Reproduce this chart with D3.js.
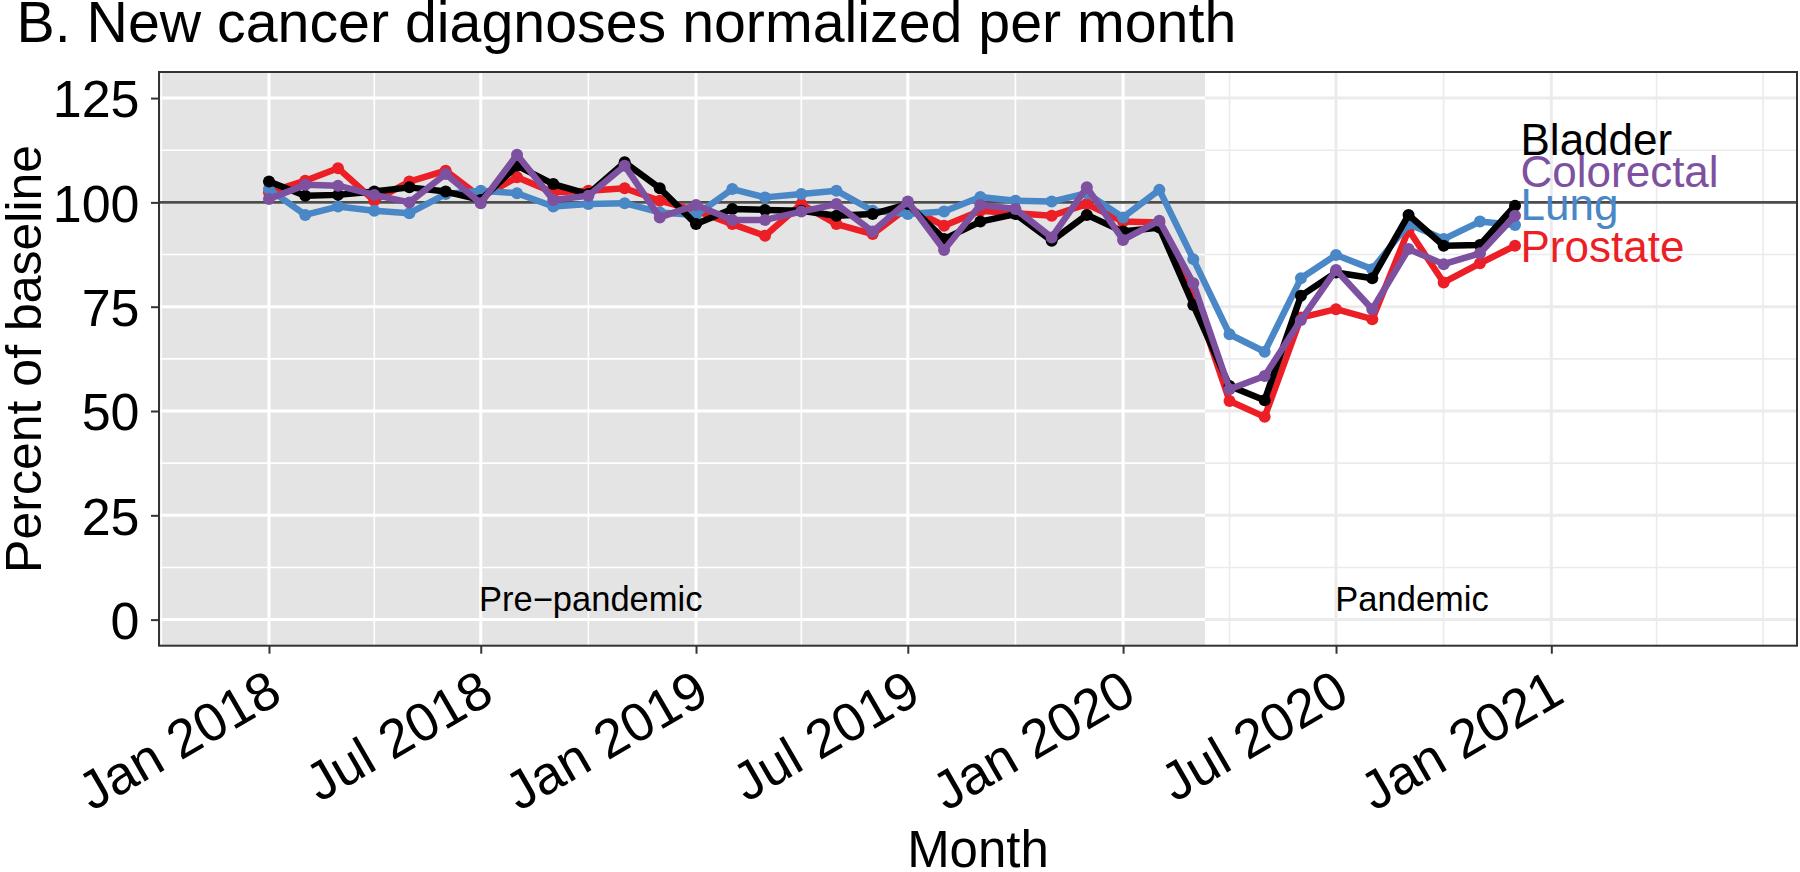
<!DOCTYPE html>
<html><head><meta charset="utf-8">
<script src="https://cdn.jsdelivr.net/npm/d3@7"></script>
<style>
body{margin:0;background:#fff}
text{font-family:"Liberation Sans",Arial,Helvetica,sans-serif}
</style>
</head><body>
<svg id="chart" width="1800" height="872"></svg>
<script>
// ---------------- data ----------------
const months = ["2018-01","2018-02","2018-03","2018-04","2018-05","2018-06","2018-07","2018-08","2018-09","2018-10","2018-11","2018-12",
                "2019-01","2019-02","2019-03","2019-04","2019-05","2019-06","2019-07","2019-08","2019-09","2019-10","2019-11","2019-12",
                "2020-01","2020-02","2020-03","2020-04","2020-05","2020-06","2020-07","2020-08","2020-09","2020-10","2020-11","2020-12"];
const bladder    = [105.0,101.6,101.8,102.6,103.6,102.6,100.6,108.8,104.4,102.0,109.6,103.4,
                    94.8,98.4,98.2,98.0,96.8,97.2,99.6,91.2,95.4,97.2,90.8,97.0,
                    93.0,94.0,75.4,56.0,52.6,77.6,83.2,81.8,97.0,89.6,89.8,99.2];
const colorectal = [100.8,104.2,104.0,101.8,100.0,106.8,99.8,111.4,100.6,101.6,108.8,96.4,
                    99.4,95.8,95.8,97.8,99.6,93.0,100.2,88.6,99.4,98.4,91.6,103.6,
                    91.0,95.6,80.6,55.2,58.4,71.8,83.8,74.4,88.8,85.2,87.8,96.8];
const lung       = [103.2,97.0,99.0,98.0,97.4,102.0,102.8,102.2,99.0,99.6,99.8,97.6,
                    97.0,103.2,101.2,102.0,102.8,98.0,97.2,97.8,101.3,100.4,100.2,102.2,
                    96.4,103.0,86.4,68.4,64.2,81.8,87.4,84.0,94.8,91.2,95.4,94.6];
const prostate   = [102.4,105.2,108.2,100.4,105.0,107.6,101.2,106.0,102.4,102.8,103.4,100.4,
                    98.0,94.8,92.0,99.6,94.8,92.4,98.8,94.4,98.0,97.4,96.8,99.6,
                    95.4,95.2,78.0,52.4,48.6,72.4,74.4,72.0,93.4,80.8,85.4,89.6];

const seriesNames  = ["Bladder","Colorectal","Lung","Prostate"];
const seriesValues = [bladder, colorectal, lung, prostate];
const seriesColors = ["#000000","#7e50a0","#4a87c7","#ec1f26"];
const drawOrder    = ["Prostate","Lung","Bladder","Colorectal"];
const labelValues  = [115.0, 107.4, 99.6, 89.4];

const yTicks      = [0,25,50,75,100,125];
const yMinor      = [12.5,37.5,62.5,87.5,112.5];
const xTickDates  = ["2018-01-01","2018-07-01","2019-01-01","2019-07-01","2020-01-01","2020-07-01","2021-01-01"];
const xTickLabels = ["Jan 2018","Jul 2018","Jan 2019","Jul 2019","Jan 2020","Jul 2020","Jan 2021"];
const xMinorDates = ["2017-10-01","2018-04-01","2018-10-01","2019-04-01","2019-10-01","2020-04-01","2020-10-01","2021-04-01","2021-07-01"];
const xDomain     = ["2017-09-29","2021-07-30"];
const yDomain     = [-6.25, 131.25];
const pandemicStart = "2020-03-11";
const periodLabels     = ["Pre\u2212pandemic","Pandemic"];
const periodLabelDates = ["2018-10-03","2020-09-04"];
const periodLabelValue = 5;
const baselineValue = 100;

const title  = "B. New cancer diagnoses normalized per month";
const xTitle = "Month";
const yTitle = "Percent of baseline";

// ---------------- layout ----------------
const P = {left:159, right:1797, top:72, bottom:645.7};
const parse = d3.utcParse("%Y-%m-%d");
const parseM = d3.utcParse("%Y-%m");

const x = d3.scaleUtc().domain(xDomain.map(parse)).range([P.left, P.right]);
const y = d3.scaleLinear().domain(yDomain).range([P.bottom, P.top]);

const svg = d3.select("#chart");
const defs = svg.append("defs");
const xSplit = x(parse(pandemicStart));
defs.append("clipPath").attr("id","clipPre").append("rect")
  .attr("x",P.left).attr("y",P.top).attr("width",xSplit-P.left).attr("height",P.bottom-P.top);
defs.append("clipPath").attr("id","clipPan").append("rect")
  .attr("x",xSplit).attr("y",P.top).attr("width",P.right-xSplit).attr("height",P.bottom-P.top);
defs.append("clipPath").attr("id","clipPanel").append("rect")
  .attr("x",P.left).attr("y",P.top).attr("width",P.right-P.left).attr("height",P.bottom-P.top);

// backgrounds
svg.append("rect").attr("x",P.left).attr("y",P.top).attr("width",P.right-P.left).attr("height",P.bottom-P.top).attr("fill","#ffffff");
svg.append("rect").attr("x",P.left).attr("y",P.top).attr("width",xSplit-P.left).attr("height",P.bottom-P.top).attr("fill","#e4e4e4");

function grid(g, color, majW, minW){
  g.selectAll(".vmin").data(xMinorDates).join("line").attr("class","vmin")
    .attr("x1",d=>x(parse(d))).attr("x2",d=>x(parse(d))).attr("y1",P.top).attr("y2",P.bottom)
    .attr("stroke",color).attr("stroke-width",minW);
  g.selectAll(".hmin").data(yMinor).join("line").attr("class","hmin")
    .attr("x1",P.left).attr("x2",P.right).attr("y1",d=>y(d)).attr("y2",d=>y(d))
    .attr("stroke",color).attr("stroke-width",minW);
  g.selectAll(".vmaj").data(xTickDates).join("line").attr("class","vmaj")
    .attr("x1",d=>x(parse(d))).attr("x2",d=>x(parse(d))).attr("y1",P.top).attr("y2",P.bottom)
    .attr("stroke",color).attr("stroke-width",majW);
  g.selectAll(".hmaj").data(yTicks).join("line").attr("class","hmaj")
    .attr("x1",P.left).attr("x2",P.right).attr("y1",d=>y(d)).attr("y2",d=>y(d))
    .attr("stroke",color).attr("stroke-width",majW);
}
grid(svg.append("g").attr("clip-path","url(#clipPre)"), "#ffffff", 3, 1.6);
grid(svg.append("g").attr("clip-path","url(#clipPan)"), "#ebebeb", 3, 1.6);

// baseline line
svg.append("line").attr("x1",P.left).attr("x2",P.right)
  .attr("y1",y(baselineValue)).attr("y2",y(baselineValue))
  .attr("stroke","#4d4d4d").attr("stroke-width",2.8);

// series
const dates = months.map(parseM);
const line = d3.line().x((d,i)=>x(dates[i])).y(d=>y(d));
const gs = svg.append("g").attr("clip-path","url(#clipPanel)");
drawOrder.forEach(name=>{
  const k = seriesNames.indexOf(name);
  const vals = seriesValues[k];
  gs.append("path").datum(vals).attr("d",line).attr("fill","none")
    .attr("stroke",seriesColors[k]).attr("stroke-width",6.5).attr("stroke-linejoin","round");
  gs.append("g").selectAll("circle").data(vals).join("circle")
    .attr("cx",(d,i)=>x(dates[i])).attr("cy",d=>y(d)).attr("r",6).attr("fill",seriesColors[k]);
});

// series labels
const lastDate = dates[dates.length-1];
svg.append("g").selectAll("text").data(seriesNames).join("text")
  .attr("x",x(lastDate)+5.5).attr("y",(d,i)=>y(labelValues[i])+15.5)
  .attr("fill",(d,i)=>seriesColors[i]).attr("font-size",44).text(d=>d);

// period labels
svg.append("g").selectAll("text").data(periodLabels).join("text")
  .attr("x",(d,i)=>x(parse(periodLabelDates[i]))).attr("y",y(periodLabelValue)+12.2)
  .attr("text-anchor","middle").attr("font-size",34.5).attr("fill","#000").text(d=>d);

// panel border
svg.append("rect").attr("x",P.left).attr("y",P.top).attr("width",P.right-P.left).attr("height",P.bottom-P.top)
  .attr("fill","none").attr("stroke","#333333").attr("stroke-width",2);

// axes
const yAxis = d3.axisLeft(y).tickValues(yTicks).tickSize(8).tickPadding(11.5).tickFormat(d3.format("d"));
const gy = svg.append("g").attr("transform",`translate(${P.left},0)`).call(yAxis);
gy.select(".domain").remove();
gy.selectAll(".tick line").attr("stroke","#333333").attr("stroke-width",2);
gy.selectAll(".tick text").attr("font-size",52).attr("fill","#000").attr("dy","0.36em");

const xAxis = d3.axisBottom(x).tickValues(xTickDates.map(parse)).tickSize(8)
  .tickFormat((d,i)=>xTickLabels[i]);
const gx = svg.append("g").attr("transform",`translate(0,${P.bottom})`).call(xAxis);
gx.select(".domain").remove();
gx.selectAll(".tick line").attr("stroke","#333333").attr("stroke-width",2);
gx.selectAll(".tick text").attr("font-size",54).attr("fill","#000")
  .attr("y",null).attr("dy",null).attr("text-anchor","end")
  .attr("transform","translate(15,55) rotate(-30)");
svg.selectAll("g").attr("font-family",null);

// titles
svg.append("text").attr("x",16.5).attr("y",41.7).attr("font-size",57.3).attr("fill","#000").text(title);
svg.append("text").attr("x",(P.left+P.right)/2).attr("y",867).attr("text-anchor","middle")
  .attr("font-size",51).attr("fill","#000").text(xTitle);
svg.append("text").attr("transform",`translate(41,${(P.top+P.bottom)/2}) rotate(-90)`)
  .attr("text-anchor","middle").attr("font-size",50).attr("fill","#000").text(yTitle);
</script>
</body></html>
